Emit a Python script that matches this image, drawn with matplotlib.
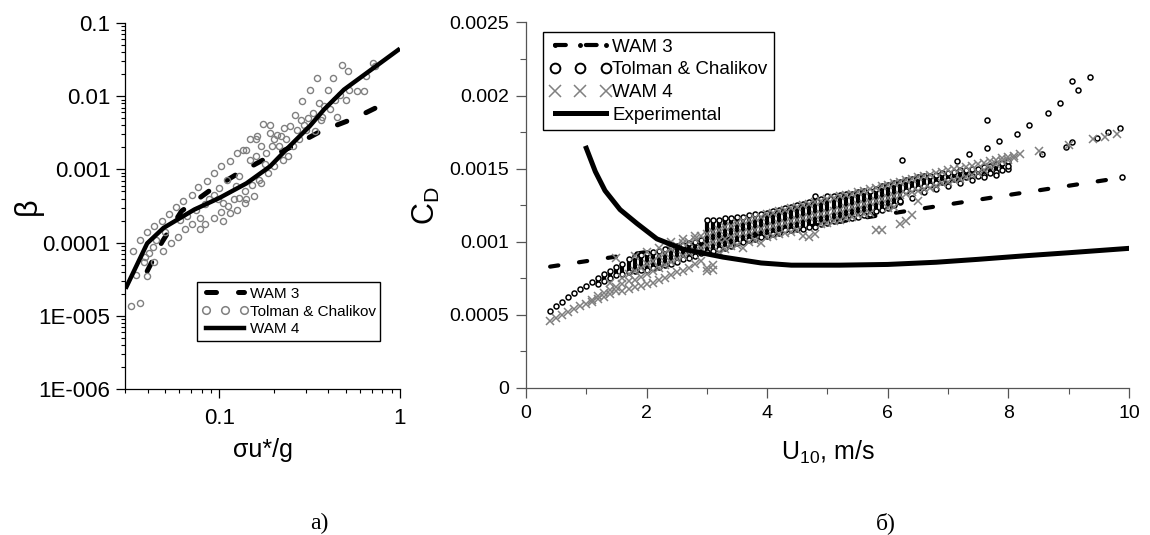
import matplotlib
matplotlib.use("Agg")
import matplotlib.pyplot as plt
import numpy as np
from matplotlib.lines import Line2D
from matplotlib.ticker import FixedLocator, FuncFormatter, LogLocator, MultipleLocator, NullFormatter

plt.rcParams["font.family"] = ["Liberation Sans", "DejaVu Sans"]
plt.rcParams["mathtext.fontset"] = "custom"
plt.rcParams["mathtext.rm"] = "Liberation Sans"
plt.rcParams["mathtext.it"] = "Liberation Sans:italic"

GRAY = "#808080"
OUTPUT_PATH = "out.png"

# ---- panel a): growth rate beta vs sigma*u/g (values stored as log10) ----
TC_LOG_X = [-1.49, -1.44, -1.48, -1.46, -1.44, -1.40, -1.40, -1.41, -1.42, -1.39,
            -1.36, -1.36, -1.32, -1.31, -1.35, -1.37, -1.30, -1.28, -1.27, -1.24,
            -1.23, -1.22, -1.20, -1.19, -1.18, -1.15, -1.15, -1.13, -1.12, -1.11,
            -1.11, -1.08, -1.08, -1.07, -1.06, -1.03, -1.03, -1.03, -1.01, -1.00,
            -0.99, -0.99, -0.98, -0.98, -0.96, -0.95, -0.94, -0.94, -0.92, -0.91,
            -0.90, -0.90, -0.89, -0.89, -0.87, -0.86, -0.86, -0.85, -0.85, -0.83,
            -0.83, -0.82, -0.81, -0.80, -0.80, -0.79, -0.78, -0.77, -0.77, -0.76,
            -0.75, -0.74, -0.73, -0.72, -0.72, -0.71, -0.70, -0.70, -0.68, -0.67,
            -0.66, -0.65, -0.64, -0.63, -0.62, -0.61, -0.59, -0.58, -0.57, -0.56,
            -0.55, -0.54, -0.53, -0.52, -0.51, -0.50, -0.48, -0.47, -0.46, -0.45,
            -0.44, -0.43, -0.42, -0.40, -0.39, -0.37, -0.36, -0.35, -0.33, -0.32,
            -0.30, -0.29, -0.28, -0.24, -0.20, -0.19, -0.15, -0.14]
TC_LOG_Y = [-4.86, -4.82, -4.11, -4.44, -3.96, -3.86, -4.46, -4.19, -4.27, -4.14,
            -4.26, -3.78, -3.70, -4.11, -3.96, -4.06, -3.86, -3.61, -4.01, -3.52,
            -3.92, -3.69, -3.43, -3.82, -3.63, -3.35, -3.74, -3.55, -3.24, -3.82,
            -3.66, -3.47, -3.74, -3.16, -3.41, -3.66, -3.35, -3.05, -3.41, -3.25,
            -3.58, -2.96, -3.46, -3.71, -3.14, -3.50, -2.88, -3.60, -3.41, -3.23,
            -2.78, -3.55, -3.39, -3.09, -2.73, -3.46, -3.30, -3.41, -2.73, -2.87,
            -2.59, -3.21, -3.37, -2.59, -2.82, -2.55, -3.14, -3.19, -2.68, -2.38,
            -2.92, -2.78, -3.05, -2.39, -2.50, -2.68, -2.96, -2.58, -2.53, -2.68,
            -2.55, -2.87, -2.43, -2.59, -2.82, -2.41, -2.68, -2.25, -2.46, -2.59,
            -2.32, -2.07, -2.39, -2.46, -2.30, -1.91, -2.23, -2.48, -1.75, -2.09,
            -2.32, -2.28, -2.14, -1.91, -2.18, -1.75, -2.05, -2.28, -1.98, -1.57,
            -2.05, -1.66, -1.91, -1.93, -1.93, -1.72, -1.54, -1.59]

WAM3_A_LOG_X = [-1.40, -1.32, -1.21, -1.06, -0.90, -0.75, -0.59, -0.44, -0.25, -0.06]
WAM3_A_LOG_Y = [-4.39, -4.00, -3.57, -3.30, -3.06, -2.86, -2.68, -2.48, -2.30, -2.07]

WAM4_A_LOG_X = [-1.52, -1.40, -1.31, -1.14, -1.00, -0.85, -0.72, -0.61, -0.50, -0.42, -0.31, 0.00]
WAM4_A_LOG_Y = [-4.63, -4.01, -3.80, -3.55, -3.39, -3.19, -2.96, -2.68, -2.41, -2.18, -1.91, -1.35]

BETA_TICKS = [1e-6, 1e-5, 1e-4, 1e-3, 1e-2, 1e-1]

# ---- panel b): drag coefficient vs U10 (C_D values in units of 1e-3) ----
WAM3_B_U = [0.4, 2.0, 4.0, 6.0, 8.0, 9.9]
WAM3_B_CD = [0.83, 0.93, 1.06, 1.19, 1.32, 1.44]

EXP_U = [1.0, 1.15, 1.31, 1.56, 1.84, 2.17, 2.6, 3.27, 3.9, 4.4, 5.2, 6.0, 6.8, 7.5, 8.3, 9.0, 10.0]
EXP_CD = [1.64, 1.48, 1.35, 1.22, 1.125, 1.02, 0.95, 0.895, 0.855, 0.84, 0.84, 0.845, 0.86,
          0.88, 0.905, 0.925, 0.955]

TC_SINGLE_U = [0.4, 0.5, 0.6, 0.7, 0.8, 0.9, 1.0, 1.1]
TC_SINGLE_CD = [0.525, 0.56, 0.59, 0.62, 0.65, 0.675, 0.70, 0.725]

TC_COL_U = [1.2, 1.3, 1.4, 1.5, 1.6, 1.7, 1.8, 1.9, 2.0, 2.1, 2.2, 2.3, 2.4, 2.5, 2.6, 2.7,
            2.8, 2.9, 3.0, 3.1, 3.2, 3.3, 3.4, 3.5, 3.6, 3.7, 3.8, 3.9, 4.0, 4.1, 4.2, 4.3,
            4.4, 4.5, 4.6, 4.7, 4.8, 4.9, 5.0, 5.1, 5.2, 5.3, 5.4, 5.5, 5.6, 5.7, 5.8, 5.9,
            6.0, 6.1, 6.2, 6.3, 6.4, 6.5, 6.6, 6.7, 6.8, 6.9, 7.0, 7.1, 7.2, 7.3, 7.4, 7.5,
            7.6, 7.7, 7.8, 7.9, 8.0]
TC_COL_HI = [0.75, 0.78, 0.80, 0.83, 0.85, 0.88, 0.90, 0.91, 0.92, 0.93, 0.94, 0.95, 0.96,
             0.97, 0.98, 0.99, 1.00, 1.01, 1.15, 1.15, 1.15, 1.16, 1.16, 1.17, 1.17, 1.18,
             1.19, 1.19, 1.20, 1.21, 1.22, 1.23, 1.24, 1.25, 1.26, 1.27, 1.31, 1.29, 1.31,
             1.31, 1.32, 1.33, 1.33, 1.34, 1.35, 1.35, 1.36, 1.38, 1.39, 1.40, 1.41, 1.42,
             1.43, 1.44, 1.45, 1.45, 1.46, 1.47, 1.47, 1.48, 1.49, 1.49, 1.50, 1.50, 1.51,
             1.52, 1.53, 1.54, 1.55]
TC_COL_LO = [0.71, 0.73, 0.75, 0.77, 0.78, 0.79, 0.80, 0.81, 0.81, 0.82, 0.83, 0.84, 0.85,
             0.86, 0.88, 0.89, 0.90, 0.92, 0.93, 0.94, 0.95, 0.96, 0.97, 0.99, 1.00, 1.01,
             1.02, 1.03, 1.04, 1.05, 1.06, 1.08, 1.08, 1.09, 1.09, 1.10, 1.10, 1.12, 1.13,
             1.14, 1.15, 1.16, 1.16, 1.17, 1.18, 1.19, 1.21, 1.22, 1.23, 1.25, 1.27, 1.35,
             1.36, 1.37, 1.38, 1.39, 1.40, 1.41, 1.42, 1.43, 1.43, 1.44, 1.45, 1.45, 1.46,
             1.47, 1.48, 1.49, 1.50]

TC_LOW_U = [6.2, 6.4, 6.6, 6.8, 7.0, 7.2, 7.4, 7.6, 7.8, 8.0]
TC_LOW_CD = [1.28, 1.30, 1.34, 1.36, 1.38, 1.40, 1.42, 1.44, 1.46, 1.52]

TC_OUT_U = [6.23, 7.64, 7.64, 7.85, 8.15, 8.35, 8.65, 8.85, 9.05, 9.16, 9.36, 8.55, 8.95,
            9.05, 9.47, 9.65, 9.85, 9.89, 7.35, 7.14]
TC_OUT_CD = [1.56, 1.83, 1.64, 1.69, 1.74, 1.80, 1.88, 1.95, 2.10, 2.04, 2.13, 1.60, 1.65,
             1.68, 1.71, 1.75, 1.78, 1.44, 1.60, 1.55]

WAM4_U = [0.4, 0.5, 0.6, 0.7, 0.8, 0.9, 1.0, 1.1, 1.2, 1.3, 1.4, 1.5, 1.6, 1.7, 1.8, 1.9,
          2.0, 2.1, 2.2, 2.3, 2.4, 2.5, 2.6, 2.7, 2.8, 2.9, 3.0, 3.1, 3.2, 3.3, 3.4, 3.5,
          3.6, 3.7, 3.8, 3.9, 4.0, 4.1, 4.2, 4.3, 4.4, 4.5, 4.6, 4.7, 4.8, 4.9, 5.0, 5.1,
          5.2, 5.3, 5.4, 5.5, 5.6, 5.7, 5.8, 5.9, 6.0, 6.1, 6.2, 6.3, 6.4, 6.5, 6.6, 6.7,
          6.8, 6.9, 7.0, 7.1, 7.2, 7.3, 7.4, 7.5, 7.6, 7.7, 7.8, 7.9, 8.0, 8.1, 8.2, 8.5,
          9.0, 9.4, 9.6, 9.8]
WAM4_CD = [[0.46], [0.48], [0.50], [0.52], [0.54], [0.56], [0.575], [0.59, 0.60],
           [0.61, 0.63], [0.62, 0.65], [0.64, 0.67, 0.72], [0.66, 0.69, 0.89],
           [0.66, 0.71, 0.75], [0.68, 0.73, 0.78], [0.69, 0.74, 0.80, 0.90],
           [0.70, 0.76, 0.82], [0.71, 0.78, 0.85, 0.93], [0.72, 0.80, 0.87],
           [0.74, 0.82, 0.90, 0.96], [0.75, 0.84, 0.92], [0.77, 0.86, 0.95, 1.00],
           [0.79, 0.88, 0.97], [0.80, 0.90, 0.99, 1.02], [0.82, 0.92, 1.00],
           [0.85, 0.94, 1.02, 1.04], [0.87, 0.96, 1.04], [0.80, 0.82, 0.98, 1.05],
           [0.81, 0.84, 1.00, 1.07], [0.93, 1.01, 1.08], [0.95, 1.02, 1.10],
           [0.97, 1.03, 1.11], [0.98, 1.05, 1.13], [0.96, 1.06, 1.14], [1.00, 1.07, 1.15],
           [1.01, 1.08, 1.16], [0.99, 1.09, 1.17], [1.03, 1.10, 1.19], [1.04, 1.11, 1.20],
           [1.05, 1.12, 1.21], [1.06, 1.13, 1.22], [1.07, 1.14, 1.23], [1.08, 1.15, 1.24],
           [1.04, 1.16, 1.25], [1.03, 1.17, 1.26], [1.05, 1.18, 1.27], [1.12, 1.19, 1.28],
           [1.13, 1.20, 1.29], [1.14, 1.21, 1.30], [1.15, 1.22, 1.31], [1.16, 1.23, 1.32],
           [1.17, 1.24, 1.33], [1.18, 1.25, 1.34], [1.19, 1.26, 1.35], [1.20, 1.27, 1.36],
           [1.08, 1.28, 1.37], [1.08, 1.29, 1.38], [1.23, 1.30, 1.39], [1.24, 1.31, 1.40],
           [1.12, 1.32, 1.41], [1.14, 1.33, 1.42], [1.18, 1.34, 1.43], [1.28, 1.35, 1.44],
           [1.36, 1.45], [1.37, 1.46], [1.38, 1.47], [1.40, 1.48], [1.41, 1.49],
           [1.42, 1.50], [1.43, 1.50], [1.44, 1.51], [1.46, 1.52], [1.47, 1.53],
           [1.49, 1.54], [1.51, 1.55], [1.53, 1.56], [1.55, 1.57], [1.56, 1.58],
           [1.57, 1.59], [1.60], [1.62], [1.66], [1.70], [1.72], [1.74]]

CD_TICKS = [0, 0.0005, 0.001, 0.0015, 0.002, 0.0025]
U_TICKS = [0, 2, 4, 6, 8, 10]


def beta_label(v, _pos):
    if v >= 1e-4:
        return f"{v:g}"
    exp = int(round(-np.log10(v)))
    return f"1E-{exp:03d}"


def draw_panel_a(ax):
    ax.plot(10 ** np.array(WAM3_A_LOG_X), 10 ** np.array(WAM3_A_LOG_Y), color="black",
            lw=3.6, dashes=(2.0, 4.2), dash_capstyle="round", zorder=2)
    ax.plot(10 ** np.array(TC_LOG_X), 10 ** np.array(TC_LOG_Y), ls="none", marker="o",
            ms=4.4, mfc="none", mec=GRAY, mew=1.0, zorder=3)
    ax.plot(10 ** np.array(WAM4_A_LOG_X), 10 ** np.array(WAM4_A_LOG_Y), color="black",
            lw=3.2, solid_capstyle="butt", zorder=4)

    ax.set_xscale("log")
    ax.set_yscale("log")
    ax.set_xlim(0.03, 1.0)
    ax.set_ylim(1e-6, 0.1)
    ax.yaxis.set_major_locator(FixedLocator(BETA_TICKS))
    ax.yaxis.set_major_formatter(FuncFormatter(beta_label))
    ax.yaxis.set_minor_locator(LogLocator(base=10, subs=np.arange(2, 10), numticks=20))
    ax.yaxis.set_minor_formatter(NullFormatter())
    ax.xaxis.set_major_locator(FixedLocator([0.1, 1.0]))
    ax.xaxis.set_major_formatter(FuncFormatter(lambda v, p: f"{v:g}"))
    ax.xaxis.set_minor_locator(LogLocator(base=10, subs=np.arange(2, 10), numticks=20))
    ax.xaxis.set_minor_formatter(NullFormatter())

    for side in ("top", "right"):
        ax.spines[side].set_visible(False)
    for side in ("left", "bottom"):
        ax.spines[side].set_linewidth(0.9)
    ax.tick_params(which="major", direction="out", length=6.5, width=0.9, labelsize=16, pad=4)
    ax.tick_params(which="minor", direction="out", length=3.2, width=0.8)
    ax.tick_params(axis="x", which="major", pad=7)

    ax.set_xlabel("σu*/g", fontsize=18)
    ax.xaxis.set_label_coords(0.5, -0.135)
    ax.set_ylabel("β", fontsize=22)
    ax.yaxis.set_label_coords(-0.30, 0.5)

    handles = [
        Line2D([], [], color="black", lw=3.6, dashes=(2.0, 4.4), dash_capstyle="round"),
        Line2D([], [], ls="none", marker="o", ms=5.5, mfc="none", mec=GRAY, mew=1.1),
        Line2D([], [], color="black", lw=3.2),
    ]
    ax.legend(handles, ["WAM 3", "Tolman & Chalikov", "WAM 4"], loc="upper left",
              bbox_to_anchor=(0.262, 0.292), borderaxespad=0, fontsize=11, numpoints=3,
              handlelength=3.1, handletextpad=0.05, labelspacing=0.25, borderpad=0.3,
              frameon=True, fancybox=False, edgecolor="black", framealpha=1)


def draw_panel_b(ax):
    scale = 1e-3
    ax.plot(WAM3_B_U, np.array(WAM3_B_CD) * scale, color="black", lw=3.0,
            dashes=(2.0, 5.0), dash_capstyle="round", zorder=2)

    ax.vlines(TC_COL_U, np.array(TC_COL_LO) * scale, np.array(TC_COL_HI) * scale,
              colors="black", lw=3.0, zorder=3)
    circle = dict(ls="none", marker="o", ms=3.6, mfc="white", mec="black", mew=1.1, zorder=3)
    ax.plot(TC_COL_U, np.array(TC_COL_LO) * scale, **circle)
    ax.plot(TC_COL_U, np.array(TC_COL_HI) * scale, **circle)
    ax.plot(TC_SINGLE_U, np.array(TC_SINGLE_CD) * scale, **circle)
    ax.plot(TC_LOW_U, np.array(TC_LOW_CD) * scale, **circle)
    ax.plot(TC_OUT_U, np.array(TC_OUT_CD) * scale, **circle)

    wam4_x = [u for u, vals in zip(WAM4_U, WAM4_CD) for _ in vals]
    wam4_y = [v * scale for vals in WAM4_CD for v in vals]
    ax.plot(wam4_x, wam4_y, ls="none", marker="x", ms=5.5, mec=GRAY, mew=1.1, zorder=4)

    ax.plot(EXP_U, np.array(EXP_CD) * scale, color="black", lw=3.6, zorder=5)

    ax.set_xlim(0, 10)
    ax.set_ylim(0, 0.0025)
    ax.xaxis.set_major_locator(FixedLocator(U_TICKS))
    ax.xaxis.set_minor_locator(MultipleLocator(1))
    ax.yaxis.set_major_locator(FixedLocator(CD_TICKS))
    ax.yaxis.set_minor_locator(MultipleLocator(0.00025))
    ax.yaxis.set_major_formatter(FuncFormatter(lambda v, p: f"{v:g}"))

    for side in ("top", "right"):
        ax.spines[side].set_visible(False)
    for side in ("left", "bottom"):
        ax.spines[side].set_linewidth(0.9)
        ax.spines[side].set_color("#555555")
    ax.tick_params(which="major", direction="out", length=7.5, width=0.9, color="#555555",
                   labelsize=14, pad=5)
    ax.tick_params(which="minor", direction="out", length=4.5, width=0.8, color="#555555")

    ax.set_xlabel(r"$\mathregular{U_{10}}$, m/s", fontsize=18)
    ax.xaxis.set_label_coords(0.5, -0.14)
    ax.set_ylabel(r"$\mathregular{C_D}$", fontsize=22)
    ax.yaxis.set_label_coords(-0.14, 0.5)

    handles = [
        Line2D([], [], color="black", lw=3.0, dashes=(2.6, 4.8), dash_capstyle="round",
               marker="o", ms=2.5, mfc="black", mec="black", markevery=[2]),
        Line2D([], [], ls="none", marker="o", ms=7, mfc="none", mec="black", mew=1.4),
        Line2D([], [], ls="none", marker="x", ms=9, mec=GRAY, mew=1.1),
        Line2D([], [], color="black", lw=3.6),
    ]
    ax.legend(handles, ["WAM 3", "Tolman & Chalikov", "WAM 4", "Experimental"],
              loc="upper left", bbox_to_anchor=(0.028, 0.974), borderaxespad=0,
              fontsize=13.5, numpoints=3, handlelength=3.3, handletextpad=0.05,
              labelspacing=0.3, borderpad=0.35, frameon=True, fancybox=False,
              edgecolor="black", framealpha=1)


def main():
    fig = plt.figure(figsize=(11.5, 5.35), dpi=100)
    fig.patch.set_facecolor("white")
    ax_a = fig.add_axes([0.1087, 0.2729, 0.2391, 0.6841])
    ax_b = fig.add_axes([0.4574, 0.2748, 0.5243, 0.6832])

    draw_panel_a(ax_a)
    draw_panel_b(ax_b)

    fig.text(0.278, 0.022, "а)", family="Liberation Serif", fontsize=17, ha="center", va="center")
    fig.text(0.770, 0.022, "б)", family="Liberation Serif", fontsize=17, ha="center", va="center")

    fig.savefig(OUTPUT_PATH, dpi=100)
    plt.close(fig)


if __name__ == "__main__":
    main()
